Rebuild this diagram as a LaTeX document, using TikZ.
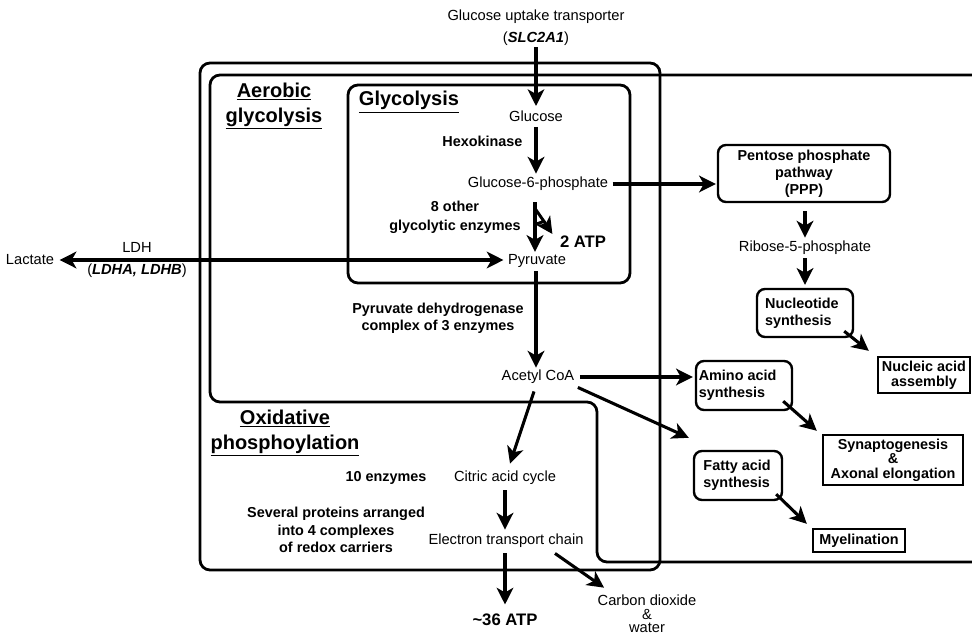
\documentclass[tikz,border=0pt]{standalone}
\usepackage{fontspec}
\setmainfont{Liberation Sans}
\usetikzlibrary{arrows.meta,calc}
\begin{document}
\begin{tikzpicture}[x=0.75pt,y=-0.75pt,
  txt/.style={inner sep=1pt,font=\fontsize{11}{13}\selectfont},
  btxt/.style={inner sep=1pt,font=\fontsize{10.8}{13}\selectfont\bfseries,align=center},
  ttl/.style={inner sep=1pt,font=\fontsize{15}{18.75}\selectfont\bfseries,align=center},
  atp/.style={inner sep=1pt,font=\fontsize{12.5}{15}\selectfont\bfseries},
  frame/.style={line width=2.1pt,rounded corners=7.5pt},
  rbox/.style={draw,line width=1.8pt,rounded corners=6pt,inner sep=0pt,align=center,font=\fontsize{10.8}{12.8}\selectfont\bfseries},
  sbox/.style={draw,line width=1.8pt,inner sep=0pt,align=center,font=\fontsize{10.8}{11}\selectfont\bfseries},
  arr/.style={line width=2.3pt,-{Stealth[length=12.5pt,width=12.5pt,inset=3.5pt]}},
  darr/.style={line width=2.3pt,{Stealth[length=12.5pt,width=12.5pt,inset=3.5pt]}-{Stealth[length=12.5pt,width=12.5pt,inset=3.5pt]}}
]
\useasboundingbox (0,0) rectangle (972,634);
% frames
\draw[frame] (200,63) rectangle (660,570);
\draw[frame] (972,75) -- (210,75) -- (210,402) -- (597,402) -- (597,562) -- (972,562);
\draw[frame] (348,85) rectangle (630,283);

% titles
\node[ttl] (aer) at (274,106) {\underline{Aerobic}\\\underline{glycolysis}};
\node[ttl] (gly) at (409,102) {\underline{Glycolysis}};
\node[ttl] (oxi) at (285,433) {\underline{Oxidative}\\\underline{phosphoylation}};

% main pathway
\node[txt,align=center,font=\fontsize{11}{16.5}\selectfont] (trans) at (536,28) {Glucose uptake transporter\\(\textbf{\textit{SLC2A1}})};
\node[txt] (glucose) at (536,116) {Glucose};
\node[btxt,anchor=east] (hexo) at (524,141) {Hexokinase};
\node[txt] (g6p) at (538,184) {Glucose-6-phosphate};
\node[btxt,font=\fontsize{10.8}{14.3}\selectfont\bfseries] (enz8) at (455,217) {8 other\\glycolytic enzymes};
\node[atp] (atp2) at (583,242) {2 ATP};
\node[txt] (pyr) at (537,261) {Pyruvate};
\node[txt] (lac) at (30,260) {Lactate};
\node[txt] (ldh) at (137,247) {LDH};
\node[txt] (ldhab) at (137,271) {(\textbf{\textit{LDHA, LDHB}})};
\node[btxt] (pdh) at (438,318) {Pyruvate dehydrogenase\\complex of 3 enzymes};
\node[txt] (acetyl) at (538,377) {Acetyl CoA};
\node[btxt] (enz10) at (386,478) {10 enzymes};
\node[txt] (citric) at (505,478) {Citric acid cycle};
\node[btxt] (sev) at (336,530) {Several proteins arranged\\into 4 complexes\\of redox carriers};
\node[txt] (etc) at (506,541) {Electron transport chain};
\node[atp] (atp36) at (505,620) {\textasciitilde36 ATP};
\node[txt,align=center,font=\fontsize{11}{10}\selectfont] (co2) at (647,614) {Carbon dioxide\\\&\\water};

% right side
\node[rbox,minimum width=129pt,minimum height=42.75pt] (ppp) at (804,173.5) {Pentose phosphate\\pathway\\(PPP)};
\node[txt] (rib) at (805,248) {Ribose-5-phosphate};
\node[rbox,minimum width=72pt,minimum height=36pt,align=left] (nucl) at (805,313) {Nucleotide\\synthesis\hspace*{10pt}};
\node[sbox,minimum width=69pt,minimum height=27pt] (nucleic) at (924,375) {Nucleic acid\\assembly};
\node[rbox,minimum width=72pt,minimum height=36.75pt,align=left] (amino) at (744,385.5) {Amino acid\\synthesis\hspace*{18pt}};
\node[sbox,minimum width=105pt,minimum height=37.5pt] (syn) at (893,460) {Synaptogenesis\\\&\\Axonal elongation};
\node[rbox,minimum width=66pt,minimum height=36.75pt,align=left] (fatty) at (738,475.5) {Fatty acid\\synthesis\hspace*{2pt}};
\node[sbox,minimum width=69pt,minimum height=17.25pt] (myel) at (859,540.5) {Myelination};

% connectors
\draw[arr] (trans.south) -- ($(glucose.north)+(0,-3)$);
\draw[arr] ($(glucose.south)+(0,4)$) -- ($(g6p.north)+(-2,-2)$);
\draw[arr] ($(g6p.east)+(3,0)$) -- ($(g6p.east -| ppp.west)+(-1,0)$);
\draw[arr] ($(g6p.south)+(-3,10)$) -- ($(pyr.north)+(-2,-1)$);
\coordinate (br1) at ($(g6p.south)+(-3,16)$);
\coordinate (br2) at ($(g6p.south)+(6,29)$);
\draw[line width=2.2pt] (br1) -- (br2) -- ($(g6p.south)+(-3,32)$);
\draw[arr] (br2) -- ($(atp2.west)+(-6,-8)$);
\draw[darr] ($(lac.east)+(4,0)$) -- ($(pyr.west)+(-3,-1)$);
\draw[arr] ($(pyr.south)+(-1,2)$) -- ($(acetyl.north)+(-2,-1)$);
\draw[arr] ($(acetyl.east)+(4,0)$) -- ($(acetyl.east -| amino.west)+(-2,0)$);
\draw[arr] ($(acetyl.south east)+(2,2)$) -- ($(fatty.north west)+(-4,-12)$);
\draw[arr] ($(acetyl.south)+(-4,6)$) -- ($(citric.north)+(5,-6)$);
\draw[arr] ($(citric.south)+(0,4)$) -- ($(etc.north)+(-1,-3)$);
\draw[arr] ($(etc.south)+(-1,4)$) -- ($(atp36.north)+(0,-8)$);
\draw[arr] ($(etc.south)+(49,4)$) -- ($(co2.north west)+(8,-6)$);
\draw[arr] ($(ppp.south)+(1,8)$) -- ($(rib.north)+(0,-2)$);
\draw[arr] ($(rib.south)+(0,2)$) -- ($(nucl.north)+(0,-3)$);
\draw[arr] ($(nucl.south east)+(-10,-7)$) -- ($(nucleic.north west)+(-8,-5)$);
\draw[arr] ($(amino.south east)+(-10,-10)$) -- ($(syn.north west)+(-5,-3)$);
\draw[arr] ($(fatty.south east)+(-7,-7)$) -- ($(myel.north west)+(-5,-4)$);
\end{tikzpicture}
\end{document}
